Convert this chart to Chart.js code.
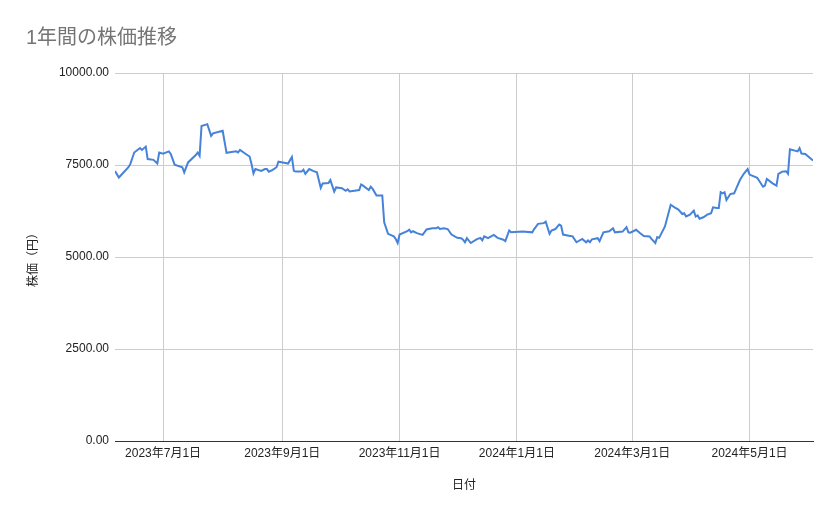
<!DOCTYPE html>
<html>
<head>
<meta charset="utf-8">
<script src="https://cdn.jsdelivr.net/npm/chart.js@4/dist/chart.umd.min.js"></script>
<style>
  html, body { margin: 0; padding: 0; background: #fff; }
  #wrap { width: 839px; height: 519px; }
</style>
</head>
<body>
<div id="wrap"><canvas id="stock"></canvas></div>
<script>
// days counted from startDate
var startDate = '2023-07-01'
var dayOffsets = [-25, -23, -18, -17, -15, -12, -11, -9, -8, -5, -3, -2, 0, 3, 4, 6, 10, 11, 13, 17, 18, 19, 20, 23, 25, 26, 31, 33, 38, 39, 40, 43, 45, 46, 47, 48, 51, 53, 54, 55, 57, 59, 60, 63, 65, 67, 68, 69, 72, 73, 74, 76, 78, 80, 82, 83, 86, 87, 89, 90, 93, 95, 96, 97, 102, 103, 104, 107, 108, 109, 111, 114, 115, 117, 120, 121, 122, 123, 127, 128, 129, 130, 132, 135, 137, 140, 142, 143, 144, 146, 148, 150, 153, 155, 156, 157, 158, 160, 163, 165, 166, 167, 169, 172, 174, 177, 178, 180, 181, 187, 192, 193, 195, 198, 199, 201, 202, 204, 206, 207, 208, 211, 213, 215, 218, 220, 221, 222, 223, 226, 227, 229, 232, 234, 235, 239, 241, 242, 243, 246, 248, 250, 253, 254, 256, 257, 258, 261, 264, 266, 268, 270, 271, 272, 274, 276, 277, 278, 279, 281, 283, 285, 286, 288, 289, 290, 291, 292, 293, 295, 297, 298, 300, 302, 304, 305, 309, 310, 312, 313, 314, 317, 319, 320, 322, 324, 325, 326, 330, 331, 332, 334, 338]
var prices = [7340, 7160, 7440, 7530, 7840, 7960, 7910, 8000, 7660, 7640, 7540, 7840, 7810, 7870, 7800, 7510, 7440, 7300, 7570, 7770, 7840, 7750, 8560, 8610, 8290, 8360, 8430, 7830, 7870, 7840, 7910, 7800, 7730, 7530, 7270, 7390, 7340, 7390, 7390, 7320, 7370, 7440, 7590, 7560, 7540, 7720, 7340, 7320, 7320, 7370, 7260, 7390, 7340, 7300, 6880, 7000, 7010, 7090, 6780, 6890, 6870, 6800, 6840, 6780, 6820, 6970, 6940, 6820, 6910, 6850, 6670, 6670, 5940, 5630, 5560, 5490, 5380, 5610, 5700, 5740, 5670, 5700, 5650, 5600, 5750, 5780, 5780, 5810, 5760, 5780, 5760, 5610, 5520, 5510, 5470, 5400, 5510, 5380, 5480, 5520, 5450, 5560, 5510, 5600, 5520, 5470, 5430, 5720, 5670, 5690, 5670, 5760, 5900, 5920, 5960, 5630, 5720, 5760, 5880, 5850, 5610, 5580, 5560, 5400, 5490, 5400, 5450, 5400, 5480, 5510, 5430, 5670, 5700, 5780, 5670, 5690, 5810, 5670, 5660, 5740, 5650, 5570, 5560, 5490, 5380, 5540, 5520, 5830, 6420, 6350, 6290, 6170, 6190, 6100, 6150, 6260, 6100, 6130, 6040, 6080, 6150, 6190, 6350, 6330, 6330, 6760, 6730, 6760, 6550, 6710, 6730, 6850, 7090, 7260, 7390, 7240, 7150, 7070, 6910, 6940, 7120, 7000, 6940, 7260, 7320, 7330, 7260, 7930, 7870, 7960, 7810, 7800, 7620]

var tickDates = ['2023-07-01', '2023-09-01', '2023-11-01', '2024-01-01', '2024-03-01', '2024-05-01']
var tickLabels = ['2023年7月1日', '2023年9月1日', '2023年11月1日', '2024年1月1日', '2024年3月1日', '2024年5月1日']

function dayOf(s) {
  return Math.round((Date.parse(s) - Date.parse(startDate)) / 86400000)
}
var tickDays = tickDates.map(dayOf)

var points = dayOffsets.map(function (d, i) { return { x: d, y: prices[i] } })

var fontFamily = "Arial, 'Liberation Sans', 'Noto Sans CJK JP', sans-serif"
Chart.defaults.font.family = fontFamily
Chart.defaults.font.size = 12
Chart.defaults.color = '#222'

var ctx = document.getElementById('stock').getContext('2d')
var stockChart = new Chart(ctx, {
  type: 'line',
  data: {
    datasets: [{
      label: '株価',
      data: points,
      borderColor: '#4682d8',
      backgroundColor: '#4682d8',
      borderWidth: 2,
      pointRadius: 0,
      tension: 0,
      fill: false
    }]
  },
  options: {
    responsive: true,
    maintainAspectRatio: false,
    animation: false,
    layout: { padding: { left: 26, right: 26, top: 26, bottom: 0 } },
    plugins: {
      legend: { display: false },
      tooltip: { enabled: false },
      title: {
        display: true,
        text: '1年間の株価推移',
        align: 'start',
        color: '#757575',
        font: { size: 20, weight: 'normal' },
        padding: { top: 0, bottom: 23 }
      }
    },
    scales: {
      x: {
        type: 'linear',
        min: dayOffsets[0],
        max: dayOffsets[dayOffsets.length - 1],
        afterBuildTicks: function (scale) {
          scale.ticks = tickDays.map(function (d) { return { value: d } })
        },
        afterFit: function (scale) { scale.height = 78 },
        ticks: {
          autoSkip: false,
          maxRotation: 0,
          padding: 5,
          color: '#222',
          callback: function (value, index) { return tickLabels[index] }
        },
        grid: { color: '#cccccc', drawTicks: false },
        border: { display: true, color: '#333333' },
        title: { display: true, text: '日付', color: '#222', padding: { top: 0, bottom: 26 } }
      },
      y: {
        min: 0,
        max: 10000,
        afterFit: function (scale) { scale.width = 89 },
        ticks: {
          stepSize: 2500,
          padding: 6,
          color: '#222',
          callback: function (value) { return value.toFixed(2) }
        },
        grid: {
          drawTicks: false,
          color: function (c) { return c.tick && c.tick.value === 0 ? '#333333' : '#cccccc' }
        },
        border: { display: false },
        title: { display: true, text: '株価（円）', color: '#222', padding: { top: 0, bottom: 0 } }
      }
    }
  }
})
</script>
</body>
</html>
